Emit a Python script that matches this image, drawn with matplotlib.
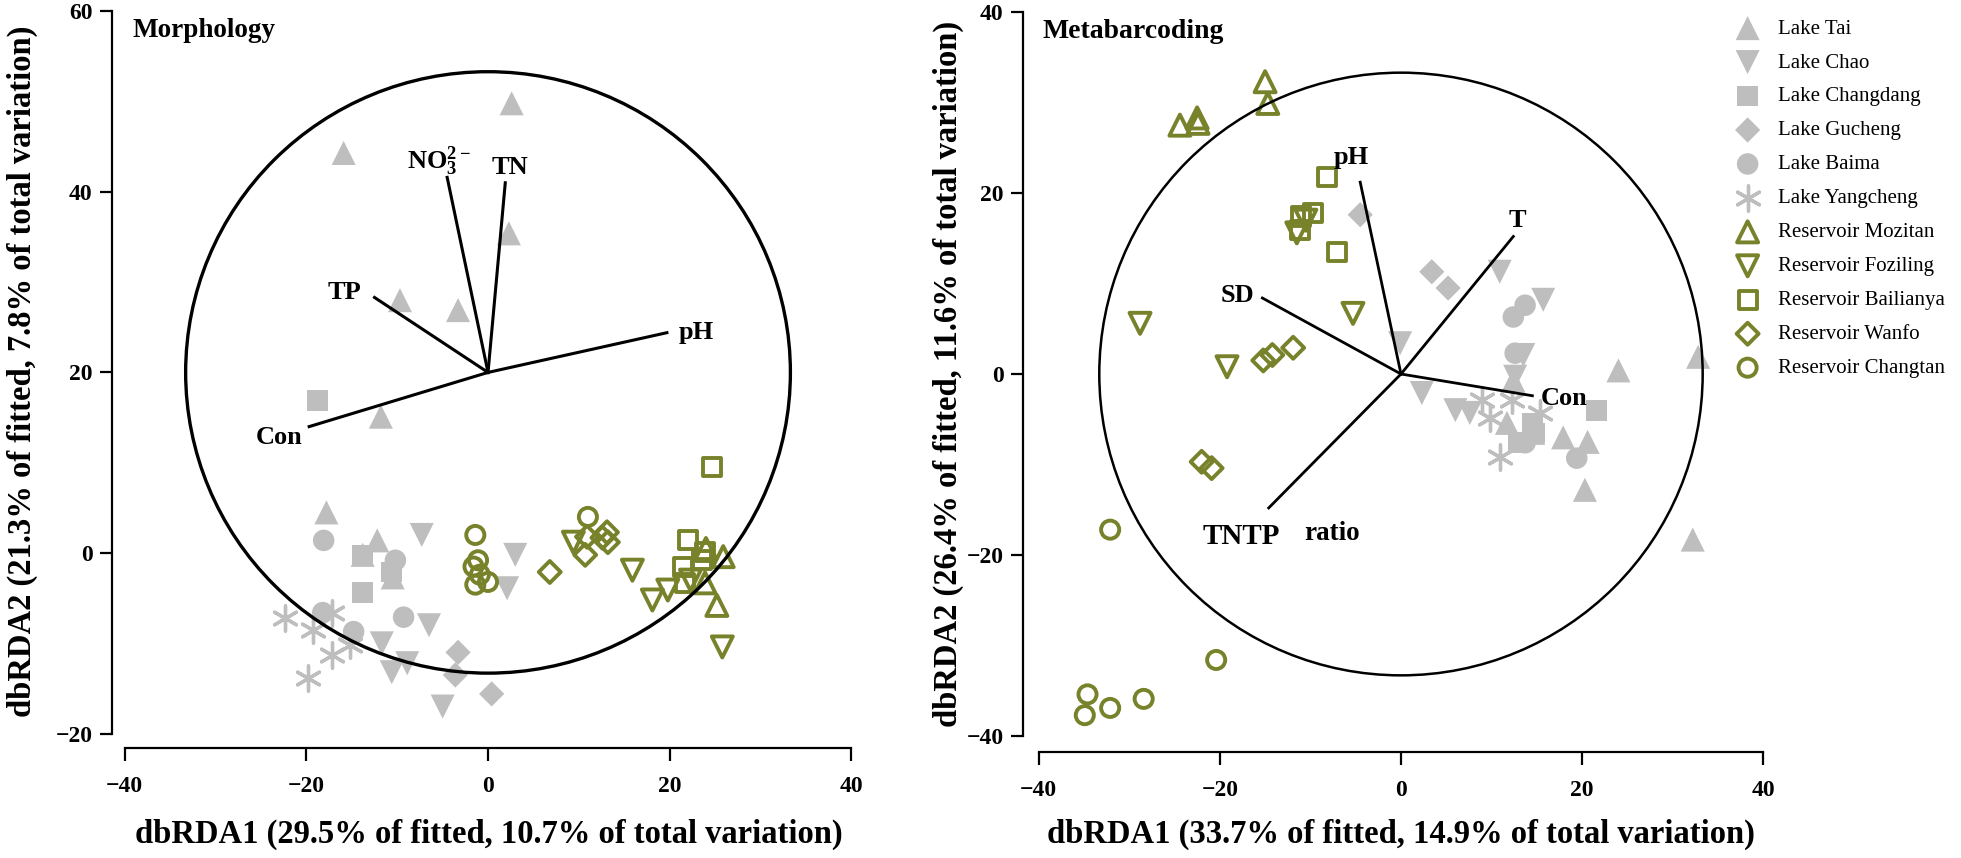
import matplotlib

matplotlib.use("Agg")
import matplotlib.pyplot as plt
from matplotlib.patches import Circle

plt.rcParams["font.family"] = ["Liberation Serif", "DejaVu Serif"]
plt.rcParams["mathtext.fontset"] = "custom"
plt.rcParams["mathtext.rm"] = "Liberation Serif"
plt.rcParams["mathtext.bf"] = "Liberation Serif:bold"

GRAY = "#bebebe"
OLIVE = "#78822a"

SITES = [
    "Lake Tai", "Lake Chao", "Lake Changdang", "Lake Gucheng", "Lake Baima",
    "Lake Yangcheng", "Reservoir Mozitan", "Reservoir Foziling",
    "Reservoir Bailianya", "Reservoir Wanfo", "Reservoir Changtan",
]

# ---- Morphology (left) site scores ----
tai_m_x = [-15.9, 2.6, 2.3, -9.7, -3.3, -11.8, -17.8, -12.2, -13.8, -10.5]
tai_m_y = [44.3, 49.8, 35.4, 28.0, 26.9, 15.1, 4.5, 1.4, -0.2, -2.7]
chao_m_x = [-7.3, -6.5, -11.7, -10.6, -8.9, -5.0, 3.0, 2.1]
chao_m_y = [2.0, -8.0, -10.0, -13.2, -12.2, -17.0, -0.2, -3.9]
changdang_m_x = [-18.8, -13.8, -13.8, -10.6]
changdang_m_y = [16.9, -4.4, -0.2, -2.1]
gucheng_m_x = [-3.3, -3.6, 0.4]
gucheng_m_y = [-11.0, -13.5, -15.6]
baima_m_x = [-18.1, -10.2, -9.3, -14.8, -18.2]
baima_m_y = [1.4, -0.8, -7.1, -8.7, -6.6]
yangcheng_m_x = [-22.4, -19.3, -17.2, -17.2, -15.2, -19.8]
yangcheng_m_y = [-7.2, -8.5, -6.6, -11.3, -10.2, -13.8]
mozitan_m_x = [25.9, 25.2, 23.9, 24.0]
mozitan_m_y = [-0.4, -5.8, -3.3, 0.5]
foziling_m_x = [9.4, 15.9, 18.1, 19.8, 25.8, 22.3]
foziling_m_y = [1.2, -1.9, -5.2, -4.1, -10.4, -3.0]
bailianya_m_x = [24.7, 22.0, 23.9, 21.5, 21.7, 23.6]
bailianya_m_y = [9.5, 1.4, 0.1, -1.5, -3.3, -0.8]
wanfo_m_x = [6.8, 10.7, 13.1, 13.2, 12.6, 10.9]
wanfo_m_y = [-2.1, -0.2, 2.3, 1.2, 1.7, 1.8]
changtan_m_x = [-1.4, -1.1, -1.6, -0.9, 0.0, -1.4, 11.0]
changtan_m_y = [2.0, -0.8, -1.5, -2.4, -3.2, -3.5, 4.0]

# ---- Metabarcoding (right) site scores ----
tai_b_x = [24.0, 32.8, 17.9, 20.6, 11.7, 14.6, 20.3, 32.2, 12.4]
tai_b_y = [0.4, 1.9, -7.0, -7.5, -5.4, -6.5, -12.8, -18.3, -0.7]
chao_b_x = [10.9, 15.7, -0.1, 2.3, 6.0, 7.6, 13.5, 12.6]
chao_b_y = [11.3, 8.2, 3.4, -2.1, -4.0, -4.3, 2.1, -0.3]
changdang_b_x = [21.6, 14.5, 14.8, 12.9]
changdang_b_y = [-4.0, -5.4, -6.5, -7.6]
gucheng_b_x = [-4.5, 3.4, 5.2]
gucheng_b_y = [17.6, 11.3, 9.5]
baima_b_x = [13.7, 12.4, 12.6, 13.7, 19.4]
baima_b_y = [7.6, 6.3, 2.3, -7.6, -9.3]
yangcheng_b_x = [8.9, 9.8, 10.9, 15.3, 12.2]
yangcheng_b_y = [-2.9, -4.9, -9.2, -4.3, -2.9]
mozitan_b_x = [-15.0, -14.7, -24.4, -22.5, -22.4]
mozitan_b_y = [32.3, 29.9, 27.5, 28.3, 27.7]
foziling_b_x = [-11.5, -28.8, -5.3, -19.2, -10.5]
foziling_b_y = [15.6, 5.6, 6.7, 0.8, 17.0]
bailianya_b_x = [-8.2, -9.7, -11.0, -11.1, -7.1]
bailianya_b_y = [21.8, 17.8, 17.4, 15.9, 13.5]
wanfo_b_x = [-15.2, -14.2, -11.9, -22.0, -20.9]
wanfo_b_y = [1.5, 2.1, 2.9, -9.7, -10.4]
changtan_b_x = [-32.1, -20.4, -34.6, -32.1, -28.4, -34.9]
changtan_b_y = [-17.2, -31.6, -35.4, -36.9, -35.9, -37.7]

# ---- environmental vectors ----
morph_origin = (0.0, 20.0)
morph_vec_names = ["pH", "Con", "TP", "NO3", "TN"]
morph_vec_x = [19.7, -19.7, -12.5, -4.5, 1.9]
morph_vec_y = [24.4, 14.0, 28.3, 41.6, 41.0]
meta_origin = (0.0, 0.0)
meta_vec_names = ["pH", "T", "Con", "SD", "TNTP"]
meta_vec_x = [-4.5, 12.4, 14.5, -15.3, -14.6]
meta_vec_y = [21.2, 15.2, -2.4, 8.4, -14.8]
circle_radius = 33.3

morph_data = [
    (tai_m_x, tai_m_y), (chao_m_x, chao_m_y), (changdang_m_x, changdang_m_y),
    (gucheng_m_x, gucheng_m_y), (baima_m_x, baima_m_y),
    (yangcheng_m_x, yangcheng_m_y), (mozitan_m_x, mozitan_m_y),
    (foziling_m_x, foziling_m_y), (bailianya_m_x, bailianya_m_y),
    (wanfo_m_x, wanfo_m_y), (changtan_m_x, changtan_m_y),
]
meta_data = [
    (tai_b_x, tai_b_y), (chao_b_x, chao_b_y), (changdang_b_x, changdang_b_y),
    (gucheng_b_x, gucheng_b_y), (baima_b_x, baima_b_y),
    (yangcheng_b_x, yangcheng_b_y), (mozitan_b_x, mozitan_b_y),
    (foziling_b_x, foziling_b_y), (bailianya_b_x, bailianya_b_y),
    (wanfo_b_x, wanfo_b_y), (changtan_b_x, changtan_b_y),
]

# marker style per site: (marker, size, filled)
STYLES = [
    ("^", 300, True), ("v", 300, True), ("s", 220, True), ("D", 165, True),
    ("o", 240, True), ((6, 2, 0), 330, True),
    ("^", 230, False), ("v", 230, False), ("s", 170, False), ("D", 125, False),
    ("o", 170, False),
]

W, H = 1961, 858
fig = plt.figure(figsize=(W / 100, H / 100), dpi=100)


def add_px_axes(left, right, top, bottom):
    return fig.add_axes([left / W, 1 - bottom / H, (right - left) / W, (bottom - top) / H])


def draw_points(ax, data):
    handles = []
    for (xs, ys), (mk, s, filled) in zip(data, STYLES):
        if filled:
            if isinstance(mk, tuple):
                h = ax.scatter(xs, ys, marker=mk, s=s, color=GRAY, linewidths=2.4, zorder=2)
            else:
                h = ax.scatter(xs, ys, marker=mk, s=s, color=GRAY, edgecolors="none", zorder=2)
        else:
            h = ax.scatter(xs, ys, marker=mk, s=s, facecolors="none", edgecolors=OLIVE,
                           linewidths=2.8, zorder=2)
        handles.append(h)
    return handles


def style_axes(ax, ybounds, yticks):
    for side in ("top", "right"):
        ax.spines[side].set_visible(False)
    ax.spines["left"].set_bounds(*ybounds)
    ax.spines["bottom"].set_bounds(-40, 40)
    for side in ("left", "bottom"):
        ax.spines[side].set_linewidth(1.6)
    ax.set_xticks([-40, -20, 0, 20, 40])
    ax.set_yticks(yticks)
    ax.tick_params(direction="out", length=9, width=1.6, labelsize=17)
    ax.tick_params(axis="y", pad=5)
    ax.tick_params(axis="x", pad=11)
    for lab in ax.get_xticklabels() + ax.get_yticklabels():
        lab.set_fontweight("bold")


AXLAB = dict(fontsize=23.5, fontweight="bold")
lab_kw = dict(fontsize=19, fontweight="bold", zorder=4, ha="center", va="center")

# ---------------- left panel ----------------
axL = add_px_axes(112, 869.4, 0, 748)
axL.set_xlim(-41.41, 42.0)
axL.set_ylim(-21.59, 61.24)
handles = draw_points(axL, morph_data)
axL.add_patch(Circle(morph_origin, circle_radius, fill=False, ec="black", lw=2.4, zorder=3))
for vx, vy in zip(morph_vec_x, morph_vec_y):
    axL.plot([morph_origin[0], vx], [morph_origin[1], vy], color="black", lw=2.2, zorder=3)
axL.text(22.9, 24.4, "pH", **lab_kw)
axL.text(-23.0, 12.8, "Con", **lab_kw)
axL.text(-15.8, 28.8, "TP", **lab_kw)
axL.text(-5.4, 43.4, r"$\mathbf{NO_3^{2-}}$", **lab_kw)
axL.text(2.4, 42.7, "TN", **lab_kw)
axL.text(-39.2, 57.9, "Morphology", ha="left", va="center", fontsize=19.5, fontweight="bold")
style_axes(axL, (-20, 60), [-20, 0, 20, 40, 60])
axL.set_xlabel("dbRDA1 (29.5% of fitted, 10.7% of total variation)", **AXLAB)
axL.set_ylabel("dbRDA2 (21.3% of fitted, 7.8% of total variation)", **AXLAB)
axL.xaxis.set_label_coords(0.497, -0.095)
axL.yaxis.set_label_coords(-0.098, 0.503)

# ---------------- right panel ----------------
axR = add_px_axes(1023, 1781.5, 0, 752)
axR.set_xlim(-41.72, 42.0)
axR.set_ylim(-41.77, 41.33)
draw_points(axR, meta_data)
axR.add_patch(Circle(meta_origin, circle_radius, fill=False, ec="black", lw=1.8, zorder=3))
for vx, vy in zip(meta_vec_x, meta_vec_y):
    axR.plot([meta_origin[0], vx], [meta_origin[1], vy], color="black", lw=2.0, zorder=3)
axR.text(-5.5, 23.9, "pH", **lab_kw)
axR.text(12.9, 17.0, "T", **lab_kw)
axR.text(18.0, -2.7, "Con", **lab_kw)
axR.text(-18.0, 8.7, "SD", **lab_kw)
axR.text(-17.6, -18.0, "TNTP", ha="center", va="center", fontsize=21, fontweight="bold", zorder=4)
axR.text(-7.6, -17.6, "ratio", ha="center", va="center", fontsize=19.5, fontweight="bold", zorder=4)
axR.text(-39.6, 37.9, "Metabarcoding", ha="left", va="center", fontsize=20, fontweight="bold")
style_axes(axR, (-40, 40), [-40, -20, 0, 20, 40])
axR.set_xlabel("dbRDA1 (33.7% of fitted, 14.9% of total variation)", **AXLAB)
axR.set_ylabel("dbRDA2 (26.4% of fitted, 11.6% of total variation)", **AXLAB)
axR.xaxis.set_label_coords(0.498, -0.089)
axR.yaxis.set_label_coords(-0.078, 0.503)

fig.legend(handles, SITES, loc="upper left", bbox_to_anchor=(1732 / W, 1 - 19 / H),
           frameon=False, fontsize=15, scatterpoints=1, handlelength=1.5,
           handletextpad=0.7, labelspacing=0.69, borderpad=0, borderaxespad=0)

fig.savefig("out.png", dpi=100)
